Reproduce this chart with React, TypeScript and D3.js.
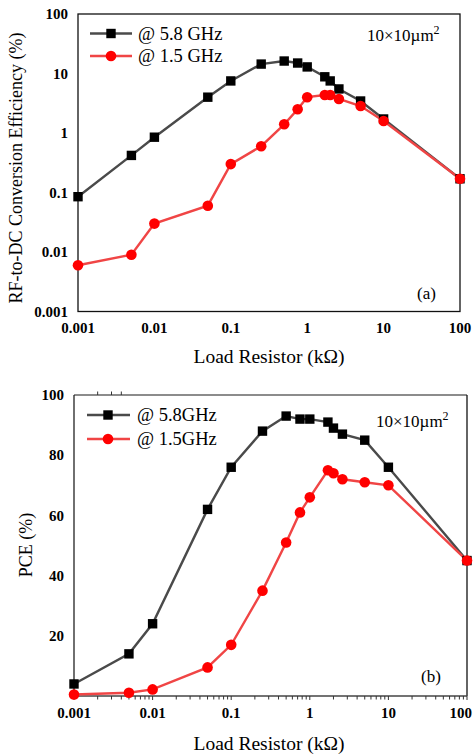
import React from "react";
import * as d3 from "d3";

const resistance = [0.001, 0.005, 0.01, 0.05, 0.1, 0.25, 0.5, 0.75, 1, 1.7, 2, 2.6, 5, 10, 100];
const eff58 = [0.085, 0.42, 0.85, 4.0, 7.5, 14.4, 16.2, 15, 12.9, 8.8, 7.5, 5.5, 3.45, 1.72, 0.17];
const eff15 = [0.006, 0.009, 0.03, 0.06, 0.3, 0.6, 1.4, 2.5, 4.0, 4.35, 4.35, 3.73, 2.84, 1.59, 0.17];
const pce58 = [4, 14, 24, 62, 76, 88, 93, 92, 92, 91, 89, 87, 85, 76, 45];
const pce15 = [0.5, 1.1, 2.2, 9.5, 17, 35, 51, 61, 66, 75, 74, 72, 71, 70, 45];
const xTicks = [0.001, 0.01, 0.1, 1, 10, 100];
const xTickLabels = ["0.001", "0.01", "0.1", "1", "10", "100"];
const yTicksA = [0.001, 0.01, 0.1, 1, 10, 100];
const yTickLabelsA = ["0.001", "0.01", "0.1", "1", "10", "100"];
const yTicksB = [20, 40, 60, 80, 100];
const legendA = ["@ 5.8 GHz", "@ 1.5 GHz"];
const legendB = ["@ 5.8GHz", "@ 1.5GHz"];

const SERIF = "Liberation Serif, DejaVu Serif, serif";
const GREY = "#4a4a4a";
const REDLINE = "#f04545";
const RED = "#ff0000";

function Square({ x, y }: { x: number; y: number }) {
  return <rect x={x - 4.7} y={y - 4.7} width={9.4} height={9.4} fill="#000" />;
}
function Dot({ x, y }: { x: number; y: number }) {
  return <circle cx={x} cy={y} r={5.3} fill={RED} />;
}

function Size({ x, y }: { x: number; y: number }) {
  return (
    <text x={x} y={y} fill="#000" style={{ fontFamily: SERIF, fontSize: 17 }}>
      10×10µm
      <tspan style={{ fontSize: 12 }} dy={-7}>2</tspan>
    </text>
  );
}

const tickStyle: React.CSSProperties = { fontFamily: SERIF, fontWeight: "bold", fontSize: 15 };
const labelStyle: React.CSSProperties = { fontFamily: SERIF, fontSize: 18.5 };
const titleStyle: React.CSSProperties = { fontFamily: SERIF, fontSize: 19.5 };

export default function App() {
  const xA = d3.scaleLog().domain([0.001, 100]).range([78, 460]);
  const yA = d3.scaleLog().domain([0.001, 100]).range([311.5, 14]);
  const lineA = d3
    .line<number>()
    .x((_, i) => xA(resistance[i]))
    .y((d) => yA(d));

  const xB = d3.scaleLog().domain([0.001, 100]).range([74, 467]);
  const yB = d3.scaleLinear().domain([0, 100]).range([696, 395]);
  const lineB = d3
    .line<number>()
    .x((_, i) => xB(resistance[i]))
    .y((d) => yB(d));

  const minorB: number[] = [];
  for (let e = -3; e < 2; e++) {
    for (let m = 2; m <= 9; m++) minorB.push(m * Math.pow(10, e));
  }
  const topMinorB = [0.002, 0.003, 0.004];

  return (
    <svg
      width={473}
      height={755}
      style={{ position: "absolute", left: 0, top: 0, background: "#fff", fontFamily: SERIF }}
    >
      <rect x={0} y={0} width={473} height={755} fill="#fff" />
      {/* ---------- Panel (a) ---------- */}
      <g>
        <rect x={78} y={14} width={382} height={297.5} fill="none" stroke="#111" strokeWidth={1.3} />
        {yTicksA.map((t, i) => (
          <text key={"ya" + i} x={68} y={yA(t)} dy="0.35em" textAnchor="end" style={tickStyle}>
            {yTickLabelsA[i]}
          </text>
        ))}
        {xTicks.map((t, i) => (
          <text key={"xa" + i} x={xA(t)} y={328} dy="0.35em" textAnchor="middle" style={tickStyle}>
            {xTickLabels[i]}
          </text>
        ))}
        <text x={269} y={363} textAnchor="middle" style={titleStyle}>
          Load Resistor (kΩ)
        </text>
        <text transform={`translate(22,168) rotate(-90)`} textAnchor="middle" style={{ fontFamily: SERIF, fontSize: 18 }}>
          RF-to-DC Conversion Efficiency (%)
        </text>

        <path d={lineA(eff58) || ""} fill="none" stroke={GREY} strokeWidth={2.4} />
        <path d={lineA(eff15) || ""} fill="none" stroke={REDLINE} strokeWidth={2.4} />
        {eff58.map((v, i) => (
          <Square key={"sa" + i} x={xA(resistance[i])} y={yA(v)} />
        ))}
        {eff15.map((v, i) => (
          <Dot key={"da" + i} x={xA(resistance[i])} y={yA(v)} />
        ))}

        <line x1={90} x2={132} y1={33.5} y2={33.5} stroke={GREY} strokeWidth={2.4} />
        <Square x={111} y={33.5} />
        <text x={138} y={33.5} dy="0.35em" style={labelStyle}>
          {legendA[0]}
        </text>
        <line x1={90} x2={132} y1={56} y2={56} stroke={REDLINE} strokeWidth={2.4} />
        <Dot x={111} y={56} />
        <text x={138} y={56} dy="0.35em" style={labelStyle}>
          {legendA[1]}
        </text>

        <Size x={367} y={41} />
        <text x={417} y={299} style={{ fontFamily: SERIF, fontSize: 17 }}>
          (a)
        </text>
      </g>

      {/* ---------- Panel (b) ---------- */}
      <g>
        <line x1={74} x2={467} y1={395} y2={395} stroke="#666" strokeWidth={1.5} />
        <line x1={74} x2={74} y1={395} y2={696} stroke="#222" strokeWidth={1.3} />
        <line x1={467} x2={467} y1={395} y2={696} stroke="#111" strokeWidth={1.3} />
        <line x1={74} x2={467} y1={696} y2={696} stroke="#444" strokeWidth={1.5} />
        {minorB.map((t, i) => (
          <line key={"mb" + i} x1={xB(t)} x2={xB(t)} y1={696} y2={699.5} stroke="#333" strokeWidth={1} />
        ))}
        {xTicks.map((t, i) => (
          <line key={"Mb" + i} x1={xB(t)} x2={xB(t)} y1={696} y2={700} stroke="#333" strokeWidth={1} />
        ))}
        {topMinorB.map((t, i) => (
          <line key={"tb" + i} x1={xB(t)} x2={xB(t)} y1={395} y2={391.5} stroke="#333" strokeWidth={1} />
        ))}
        {[100, ...yTicksB.slice(0, 4).reverse()].map((t, i) => (
          <text key={"yb" + i} x={64} y={yB(t)} dy="0.35em" textAnchor="end" style={tickStyle}>
            {t}
          </text>
        ))}
        {xTicks.map((t, i) => {
          const last = i === xTicks.length - 1;
          return (
            <text
              key={"xb" + i}
              x={last ? 472 : xB(t)}
              y={713}
              dy="0.35em"
              textAnchor={last ? "end" : "middle"}
              style={tickStyle}
            >
              {xTickLabels[i]}
            </text>
          );
        })}
        <text x={269} y={750} textAnchor="middle" style={titleStyle}>
          Load Resistor (kΩ)
        </text>
        <text transform={`translate(32,545) rotate(-90)`} textAnchor="middle" style={{ fontFamily: SERIF, fontSize: 18 }}>
          PCE (%)
        </text>

        <path d={lineB(pce58) || ""} fill="none" stroke={GREY} strokeWidth={2.4} />
        <path d={lineB(pce15) || ""} fill="none" stroke={REDLINE} strokeWidth={2.4} />
        {pce58.map((v, i) => (
          <Square key={"sb" + i} x={xB(resistance[i])} y={yB(v)} />
        ))}
        {pce15.map((v, i) => (
          <Dot key={"db" + i} x={xB(resistance[i])} y={yB(v)} />
        ))}

        <line x1={87} x2={130} y1={415} y2={415} stroke={GREY} strokeWidth={2.4} />
        <Square x={108} y={415} />
        <text x={137} y={415} dy="0.35em" style={labelStyle}>
          {legendB[0]}
        </text>
        <line x1={87} x2={130} y1={439} y2={439} stroke={REDLINE} strokeWidth={2.4} />
        <Dot x={108} y={439} />
        <text x={137} y={439} dy="0.35em" style={labelStyle}>
          {legendB[1]}
        </text>

        <Size x={376} y={427} />
        <text x={421} y={682} style={{ fontFamily: SERIF, fontSize: 17 }}>
          (b)
        </text>
      </g>
    </svg>
  );
}
